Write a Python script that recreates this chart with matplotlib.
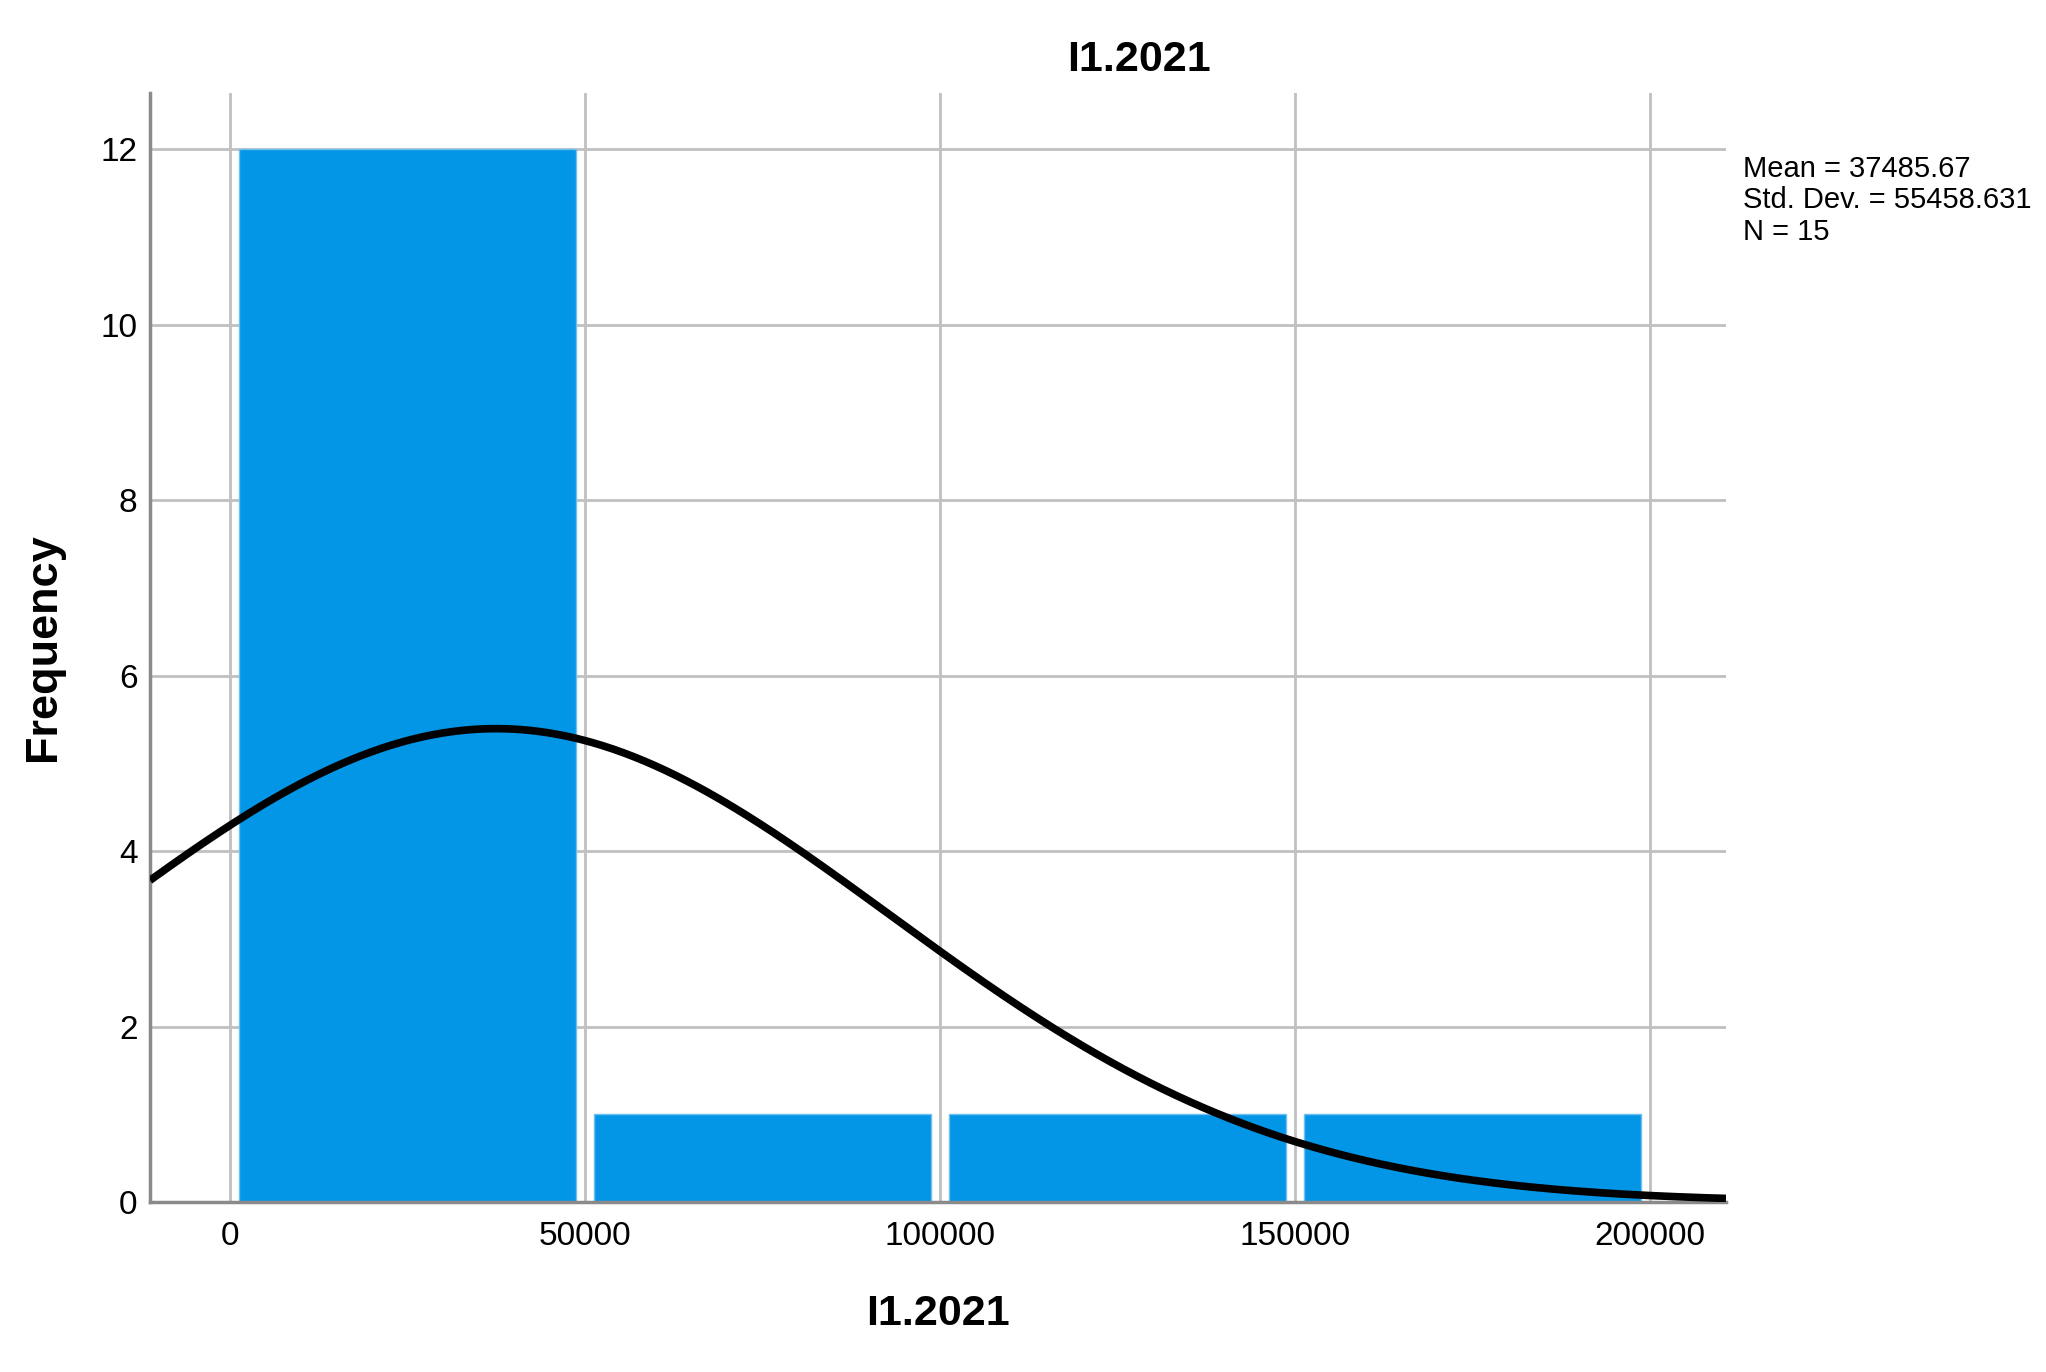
import numpy as np
import matplotlib
matplotlib.use('Agg')
from matplotlib import pyplot as plt

# histogram of I1.2021 (SPSS style)
bin_edges = [0, 50000, 100000, 150000, 200000]
counts = [12, 1, 1, 1]
mean = 37485.67
std = 55458.631
n = 15
x_ticks = [0, 50000, 100000, 150000, 200000]
y_ticks = [0, 2, 4, 6, 8, 10, 12]
title = 'I1.2021'

plt.rcParams['font.family'] = ['Liberation Sans', 'DejaVu Sans']

fig = plt.figure(figsize=(20.46, 13.72), dpi=100)
ax = fig.add_axes([0.0733, 0.1239, 0.7703, 0.8083])

xmin, xmax = -11270, 210700
ax.set_xlim(xmin, xmax)
ax.set_ylim(0, 12.64)

# grid
for xv in x_ticks:
	ax.axvline(xv, color='#c0c0c0', lw=2.0, zorder=1)
for yv in y_ticks:
	ax.axhline(yv, color='#c0c0c0', lw=2.0, zorder=1)

# bars with a small white gap
binw = bin_edges[1] - bin_edges[0]
gap = 1300
lefts = np.array(bin_edges[:-1]) + gap
ax.bar(lefts, counts, width=binw - 2 * gap, align='edge',
       color='#0396e6', edgecolor='#6fc0f0', linewidth=1.0, zorder=2)

# normal curve
xs = np.linspace(xmin, xmax, 600)
ys = n * binw * np.exp(-0.5 * ((xs - mean) / std) ** 2) / (std * np.sqrt(2 * np.pi))
ax.plot(xs, ys, color='black', lw=5.5, zorder=3, solid_capstyle='butt')

ax.set_xticks(x_ticks)
ax.set_yticks(y_ticks)
ax.tick_params(length=0, labelsize=24)
ax.tick_params(axis='x', pad=14)
ax.tick_params(axis='y', pad=9)
for s in ['top', 'right']:
	ax.spines[s].set_visible(False)
for s in ['left', 'bottom']:
	ax.spines[s].set_color('#8a8a8a')
	ax.spines[s].set_linewidth(2.5)

ax.set_xlabel(title, fontsize=31, fontweight='bold', labelpad=30)
ax.set_ylabel('Frequency', fontsize=32.5, fontweight='bold', labelpad=26)
fig.text(873 / 1568, 1 - 46 / 1051, title, fontsize=31, fontweight='bold',
         ha='center', va='center')

fig.text(1743 / 2046, 1 - 155 / 1372,
         'Mean = 37485.67\nStd. Dev. = 55458.631\nN = 15',
         fontsize=21, va='top', ha='left', linespacing=1.15)

fig.savefig('out.png', dpi=100)
